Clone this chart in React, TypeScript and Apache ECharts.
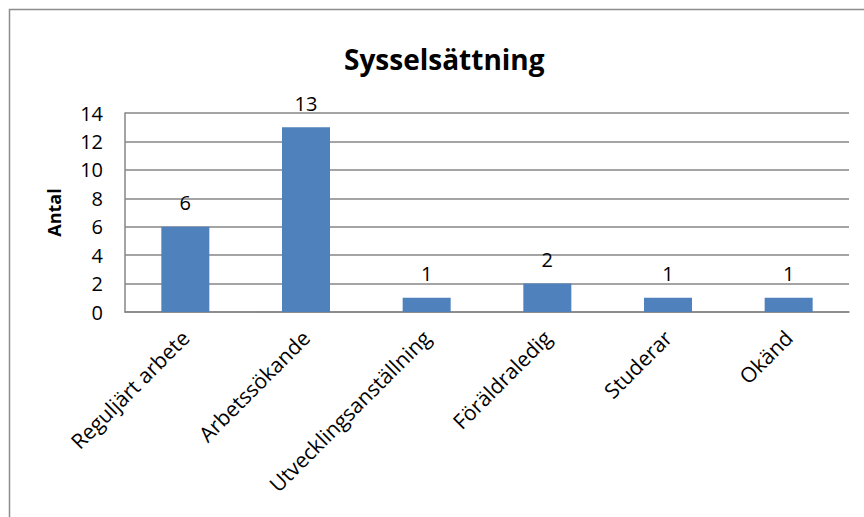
import React, { useEffect, useRef } from "react";
import * as echarts from "echarts";

const categories = ["Reguljärt arbete", "Arbetssökande", "Utvecklingsanställning", "Föräldraledig", "Studerar", "Okänd"];
const values = [6, 13, 1, 2, 1, 1];
const titleText = "Sysselsättning";
const yAxisName = "Antal";

const FONT = "'Open Sans', 'Noto Sans', sans-serif";

export default function App() {
  const ref = useRef<HTMLDivElement>(null);
  useEffect(() => {
    if (!ref.current) return;
    const chart = echarts.init(ref.current, null, { renderer: "svg" });
    chart.setOption({
      animation: false,
      backgroundColor: "#ffffff",
      graphic: [
        {
          type: "rect",
          shape: { x: 9.5, y: 9.5, width: 900, height: 600 },
          style: { fill: "none", stroke: "#8c8c8c", lineWidth: 1.5 },
          silent: true,
        },
      ],
      title: {
        text: titleText,
        left: 339,
        top: 40,
        textStyle: { fontFamily: FONT, fontSize: 28, fontWeight: "bold", color: "#000" },
      },
      grid: { left: 125, right: 15, top: 113, bottom: 205, containLabel: false },
      xAxis: {
        type: "category",
        data: categories,
        axisLine: { show: true, lineStyle: { color: "#868686", width: 1.5 } },
        axisTick: { show: false },
        axisLabel: {
          rotate: 45,
          interval: 0,
          margin: 22,
          fontFamily: FONT,
          fontSize: 21,
          color: "#000",
        },
      },
      yAxis: {
        type: "value",
        min: 0,
        max: 14,
        interval: 2,
        name: yAxisName,
        nameLocation: "middle",
        nameGap: 62,
        nameRotate: 90,
        nameTextStyle: { fontFamily: FONT, fontSize: 18, fontWeight: "bold", color: "#000" },
        axisLine: { show: true, lineStyle: { color: "#868686", width: 1.5 } },
        axisTick: { show: false },
        axisLabel: { fontFamily: FONT, fontSize: 20, color: "#000", margin: 22 },
        splitLine: { show: true, lineStyle: { color: "#868686", width: 1.5 } },
      },
      series: [
        {
          type: "bar",
          data: values,
          barWidth: 48,
          itemStyle: { color: "#4F81BD" },
          label: {
            show: true,
            position: "top",
            distance: 14,
            fontFamily: FONT,
            fontSize: 20,
            color: "#000",
          },
        },
      ],
    });
    return () => chart.dispose();
  }, []);
  return <div ref={ref} style={{ width: 864, height: 517, position: "absolute", left: 0, top: 0 }} />;
}
